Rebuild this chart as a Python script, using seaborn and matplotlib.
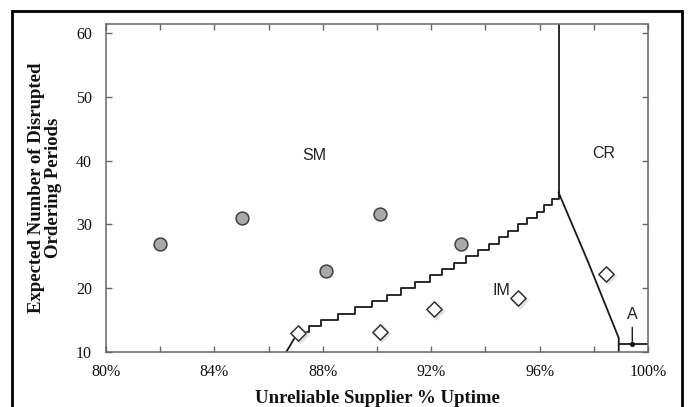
import matplotlib
matplotlib.use("Agg")
import matplotlib.pyplot as plt
import seaborn as sns
import pandas as pd
from matplotlib.patches import Rectangle
from matplotlib.ticker import MultipleLocator, FuncFormatter

# ---- data ----
sm_x = [82.0, 85.0, 88.1, 90.1, 93.1]
sm_y = [26.9, 31.0, 22.7, 31.6, 26.9]

im_x = [87.1, 90.1, 92.1, 95.2, 98.45]
im_y = [13.0, 13.2, 16.7, 18.4, 22.3]

a_x = [99.42]
a_y = [11.2]

# staircase boundary between SM and IM
stair_x = [87.10, 87.48, 87.95, 88.56, 89.19, 89.81, 90.37, 90.89, 91.42, 91.95,
           92.40, 92.84, 93.29, 93.73, 94.14, 94.49, 94.84, 95.19, 95.54, 95.89,
           96.18, 96.44, 96.70]
stair_y = [13.2, 14, 15, 16, 17, 18, 19, 20, 21, 22, 23, 24, 25, 26, 27, 28,
           29, 30, 31, 32, 33, 34, 35]
lead_x = [86.65, 87.10]
lead_y = [10.0, 13.2]

# SM / CR boundary (vertical)
cr_x = [96.70, 96.70]
cr_y = [35.0, 61.4]

# CR / IM boundary
cri_x = [96.70, 97.40, 97.80, 98.92, 98.92]
cri_y = [35.0, 28.0, 24.0, 12.2, 10.0]

# A region boundary
ab_x = [98.92, 100.0]
ab_y = [11.2, 11.2]

region_labels = ["SM", "CR", "IM", "A"]
region_x = [87.7, 98.35, 94.6, 99.42]
region_y = [40.8, 41.1, 19.6, 15.9]

x_ticks = [80, 84, 88, 92, 96, 100]
y_ticks = [10, 20, 30, 40, 50, 60]

# ---- figure ----
sns.set_theme(style="white")
plt.rcParams["font.family"] = ["Liberation Serif", "DejaVu Serif"]

fig = plt.figure(figsize=(6.89, 4.07), dpi=100)
ax = fig.add_axes([106/689, 1-352/407, (648-106)/689, (352-24)/407])

line_kw = dict(color="#1a1a1a", linewidth=1.3, estimator=None, sort=False, legend=False)
sns.lineplot(x=lead_x, y=lead_y, ax=ax, **line_kw)
sns.lineplot(x=stair_x, y=stair_y, ax=ax, drawstyle="steps-post", **line_kw)
sns.lineplot(x=cr_x, y=cr_y, ax=ax, **line_kw)
sns.lineplot(x=cri_x, y=cri_y, ax=ax, **line_kw)
sns.lineplot(x=ab_x, y=ab_y, ax=ax, **line_kw)

# diamond shadows
sns.scatterplot(x=[v + 0.08 for v in im_x], y=[v - 0.35 for v in im_y], ax=ax, marker="D",
                s=90, color="#d0d0d0", edgecolor="none", alpha=0.6, legend=False, zorder=3)
sns.scatterplot(x=sm_x, y=sm_y, ax=ax, marker="o", s=85, color="#a9a9a9",
                edgecolor="#404040", linewidth=1.1, legend=False, zorder=4)
sns.scatterplot(x=im_x, y=im_y, ax=ax, marker="D", s=60, color="white",
                edgecolor="#333333", linewidth=1.1, legend=False, zorder=4)
sns.scatterplot(x=a_x, y=a_y, ax=ax, marker="o", s=12, color="#111111",
                edgecolor="#111111", legend=False, zorder=5)
ax.annotate("", xy=(a_x[0], a_y[0]), xytext=(a_x[0], 14.3),
            arrowprops=dict(arrowstyle="-", color="#1a1a1a", lw=1.0))

for lab, lx, ly in zip(region_labels, region_x, region_y):
    ax.text(lx, ly, lab, ha="center", va="center", fontsize=11.5,
            family=["Liberation Sans", "DejaVu Sans"], color="#222222")

ax.set_xlim(80, 100)
ax.set_ylim(10, 61.4)
ax.set_xticks(x_ticks)
ax.xaxis.set_minor_locator(MultipleLocator(2))
ax.xaxis.set_major_formatter(FuncFormatter(lambda v, p: f"{int(v)}%"))
ax.set_yticks(y_ticks)

ax.tick_params(axis="both", which="both", direction="in", length=4, width=1.0,
               color="#666666", top=True, right=True, bottom=True, left=True,
               labelsize=11.5, labelcolor="#111111")
ax.tick_params(axis="x", which="major", pad=9)
ax.tick_params(axis="y", which="major", pad=10)
ax.tick_params(axis="both", which="minor", length=4)
for lbl in ax.get_xticklabels() + ax.get_yticklabels():
    lbl.set_fontfamily(["Liberation Serif", "DejaVu Serif"])
for s in ax.spines.values():
    s.set_color("#666666")
    s.set_linewidth(1.1)

ax.set_xlabel("Unreliable Supplier % Uptime", fontsize=13.5, fontweight="bold",
              color="#111111", labelpad=7)
ax.set_ylabel("Expected Number of Disrupted\nOrdering Periods", fontsize=13.5,
              fontweight="bold", color="#111111", labelpad=10, linespacing=1.05)

# outer frame
fig.patches.append(Rectangle((12/689, -0.05), (682-12)/689, 1.05 - 11/407,
                             transform=fig.transFigure, fill=False,
                             edgecolor="black", linewidth=2.0))

fig.savefig("out.png", dpi=100)
